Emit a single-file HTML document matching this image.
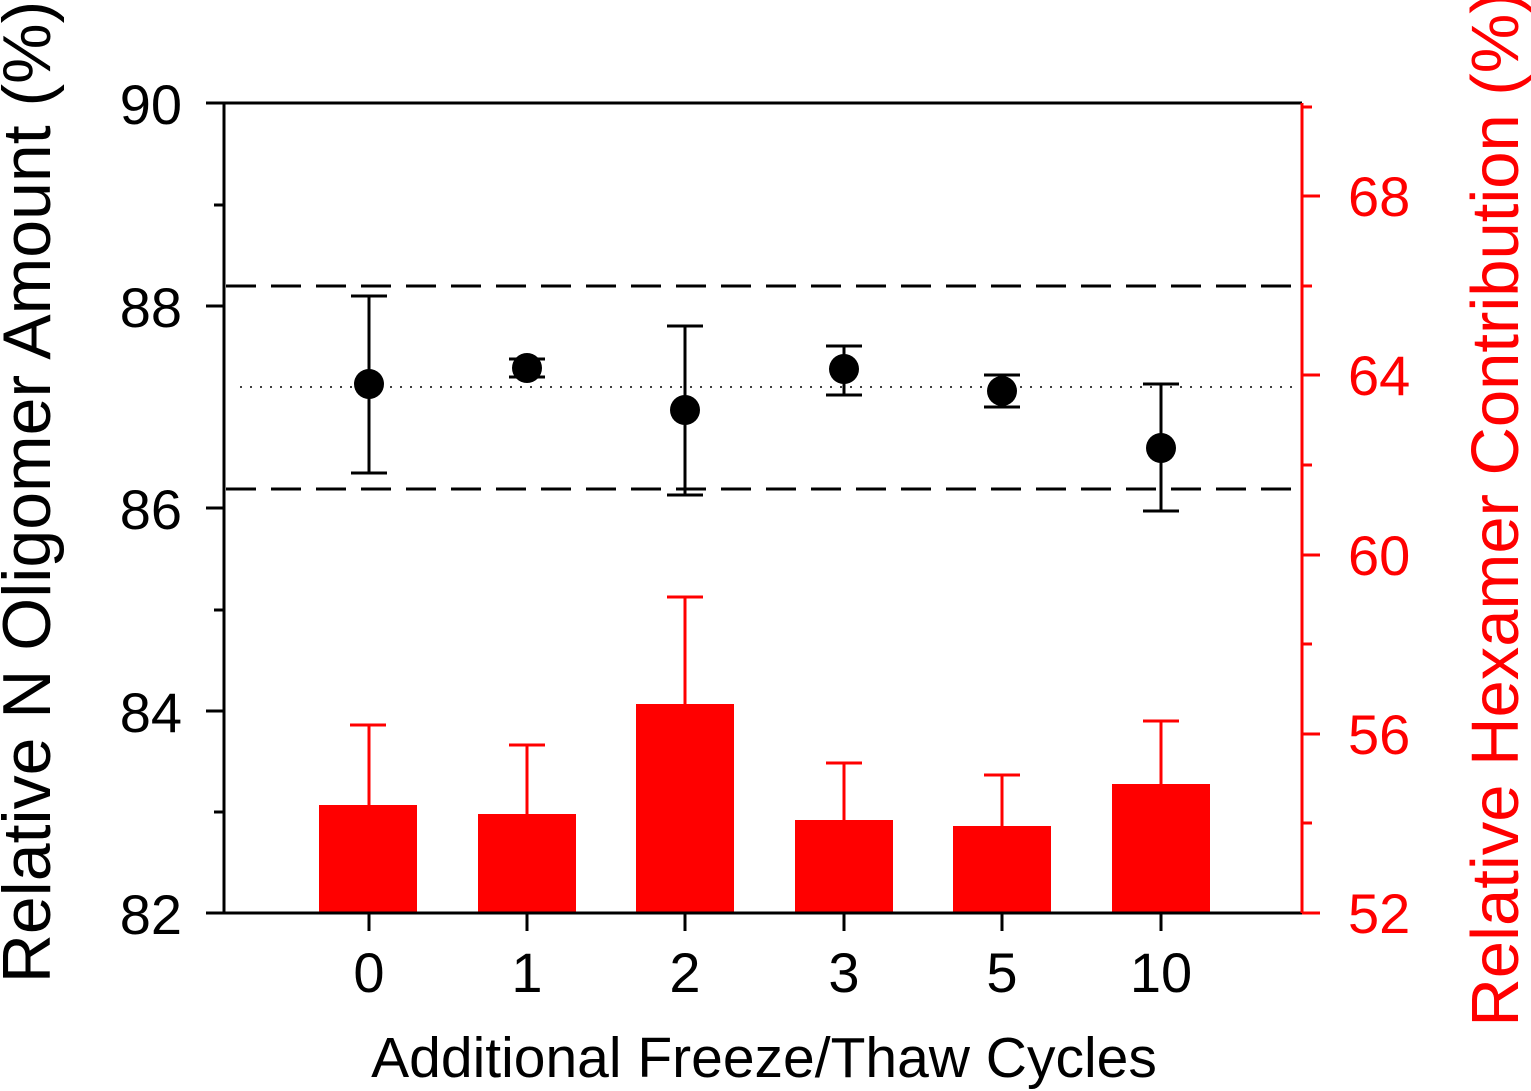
<!DOCTYPE html>
<html><head><style>body{margin:0;background:#fff}svg{display:block}</style></head><body>
<svg width="1531" height="1091" viewBox="0 0 1531 1091" font-family="Liberation Sans, Arial, sans-serif">
<rect width="1531" height="1091" fill="#fff"/>
<g fill="#ff0000">
<rect x="319" y="805" width="98" height="108"/>
<rect x="478" y="814" width="98" height="99"/>
<rect x="636" y="704" width="98" height="209"/>
<rect x="795" y="820" width="98" height="93"/>
<rect x="953" y="826" width="98" height="87"/>
<rect x="1112" y="784" width="98" height="129"/>
</g>
<g stroke="#ff0000" stroke-width="3">
<path d="M369 805V725M350 725H386"/>
<path d="M527 814V745M509 745H545"/>
<path d="M685 704V597M667 597H703"/>
<path d="M844 820V763M826 763H862"/>
<path d="M1002 826V775M984 775H1020"/>
<path d="M1161 784V721M1143 721H1179"/>
</g>
<g stroke="#000" stroke-width="3" stroke-dasharray="30,15">
<line x1="226" y1="286" x2="1300" y2="286"/>
<line x1="226" y1="489" x2="1300" y2="489"/>
</g>
<line x1="240" y1="387" x2="1300" y2="387" stroke="#000" stroke-width="1.5" stroke-dasharray="2,8"/>
<g stroke="#000" stroke-width="3">
<path d="M369 296V473M351 296H387M351 473H387"/>
<path d="M527 359V377M509 359H545M509 377H545"/>
<path d="M685 326V495M667 326H703M667 495H703"/>
<path d="M844 346V395M826 346H862M826 395H862"/>
<path d="M1002 375V407M984 375H1020M984 407H1020"/>
<path d="M1161 384V511M1143 384H1179M1143 511H1179"/>
</g>
<g fill="#000">
<circle cx="369" cy="384" r="15"/><circle cx="527" cy="368" r="15"/><circle cx="685" cy="410" r="15"/>
<circle cx="844" cy="369" r="15"/><circle cx="1002" cy="391" r="15"/><circle cx="1161" cy="448" r="15"/>
</g>
<g stroke="#000" stroke-width="3" fill="none">
<path d="M224 103H1302M224 103V913H1302"/>
<path d="M206 103H224M206 306H224M206 508H224M206 711H224M206 913H224M214 205H224M214 610H224M214 812H224"/>
<path d="M369 913V931M527 913V931M685 913V931M844 913V931M1002 913V931M1161 913V931"/>
</g>
<g stroke="#ff0000" stroke-width="3" fill="none">
<path d="M1302 103V913"/>
<path d="M1302 196H1320M1302 375H1320M1302 555H1320M1302 734H1320M1302 913H1320M1302 286H1312M1302 465H1312M1302 644H1312M1302 823H1312M1302 107H1312"/>
</g>
<g font-size="56" text-anchor="end" fill="#000">
<text x="182" y="124">90</text><text x="182" y="327">88</text><text x="182" y="529">86</text>
<text x="182" y="732">84</text><text x="182" y="934">82</text>
</g>
<g font-size="56" text-anchor="start" fill="#ff0000">
<text x="1348" y="216">68</text><text x="1348" y="395">64</text><text x="1348" y="575">60</text>
<text x="1348" y="754">56</text><text x="1348" y="933">52</text>
</g>
<g font-size="56" text-anchor="middle" fill="#000">
<text x="369" y="992">0</text><text x="527" y="992">1</text><text x="685" y="992">2</text>
<text x="844" y="992">3</text><text x="1002" y="992">5</text><text x="1161" y="992">10</text>
</g>
<text x="764" y="1077" font-size="57" text-anchor="middle">Additional Freeze/Thaw Cycles</text>
<text transform="translate(50,492) rotate(-90)" font-size="68" text-anchor="middle">Relative N Oligomer Amount (%)</text>
<text transform="translate(1518,509) rotate(-90)" font-size="67" text-anchor="middle" fill="#ff0000">Relative Hexamer Contribution (%)</text>
</svg>
</body></html>
